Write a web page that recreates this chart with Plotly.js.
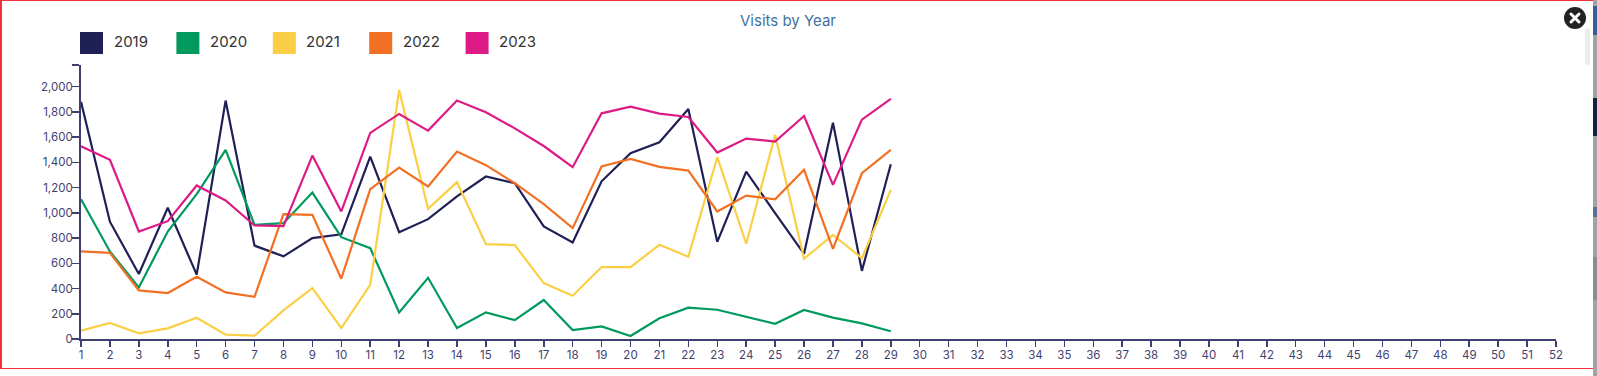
<!DOCTYPE html>
<html>
<head>
<meta charset="utf-8">
<script src="https://cdn.plot.ly/plotly-3.0.1.min.js"></script>
<style>
html,body{margin:0;padding:0;width:1597px;height:376px;overflow:hidden;background:#fff}
#frame{position:absolute;left:0;top:0;width:1593px;height:369px;box-sizing:border-box;border:solid #f0313c;border-width:1px 0 1px 2px}
.strip{position:absolute;left:1593px;width:4px}
#thumb{position:absolute;left:1585px;top:28px;width:5px;height:37px;background:#ececec;border-radius:3px}
#chart{position:absolute;left:0;top:0;width:1597px;height:376px}
#close{position:absolute;left:1564px;top:7px;width:22px;height:22px}
</style>
</head>
<body>
<div id="chart"></div>
<div id="frame"></div>
<div class="strip" style="top:0;height:376px;background:#a2a2a2"></div>
<div class="strip" style="top:6px;height:29px;background:#3c5a96"></div>
<div class="strip" style="top:98px;height:38px;background:#14213f"></div>
<div class="strip" style="top:207px;height:10px;background:#5d7196"></div>
<div class="strip" style="top:257px;height:43px;background:#8c8c8c"></div>
<div id="thumb"></div>
<svg id="close" viewBox="0 0 22 22"><circle cx="11" cy="11" r="11" fill="#222"/><path d="M7 7L15 15M15 7L7 15" stroke="#fff" stroke-width="3" stroke-linecap="round"/></svg>
<script>
const titleText = "Visits by Year";
const weeks = [1,2,3,4,5,6,7,8,9,10,11,12,13,14,15,16,17,18,19,20,21,22,23,24,25,26,27,28,29];
const allWeeks = Array.from({length:52},(_,i)=>i+1);
const names = ["2019","2020","2021","2022","2023"];
const colors = ["#1f2056","#009a5e","#fbcf45","#f27024","#dd1a85"];
const yTickVals = [0,200,400,600,800,1000,1200,1400,1600,1800,2000,2172];
const yTickText = ["0","200","400","600","800","1,000","1,200","1,400","1,600","1,800","2,000",""];
const v2019 = [1880,930,515,1040,510,1890,740,655,800,830,1445,847,950,1130,1288,1235,892,765,1250,1472,1560,1823,770,1327,998,675,1715,540,1385];
const v2020 = [1108,694,409,852,1148,1499,905,918,1161,807,720,211,485,87,211,150,309,71,100,24,164,248,232,174,121,230,169,124,61];
const v2021 = [66,127,45,84,169,34,26,227,404,87,430,1974,1032,1243,752,744,443,343,570,570,747,652,1441,755,1618,636,826,641,1182];
const v2022 = [694,683,385,364,493,369,335,990,984,478,1188,1359,1209,1486,1378,1235,1069,879,1367,1428,1364,1335,1011,1137,1108,1341,715,1314,1499];
const v2023 = [1528,1420,852,934,1217,1098,900,895,1454,1011,1634,1784,1652,1890,1797,1670,1530,1362,1789,1842,1787,1760,1478,1589,1565,1768,1222,1739,1903];
const series = [v2019,v2020,v2021,v2022,v2023];

const W = 1597, H = 376;
const font = "Inter, 'Noto Sans', sans-serif";
const tickColor = "#3f3f70";

const traces = names.map((n,i)=>({
  type:"scatter", mode:"lines", name:n, x:weeks, y:series[i],
  line:{color:colors[i], width:2.2, shape:"linear"}, hoverinfo:"x+y+name", cliponaxis:false
}));

const marginL = 81, marginR = 41, marginT = 65, marginB = 37;
const plotW = W - marginL - marginR, plotH = H - marginT - marginB;
const toPX = x => (x - marginL) / plotW;
const toPY = y => (H - marginB - y) / plotH;

const legendShapes = names.map((n,i)=>{
  const left = 80 + i * 96.4;
  return {type:"rect", xref:"paper", yref:"paper", layer:"above",
    x0:toPX(left), x1:toPX(left + 23), y0:toPY(54), y1:toPY(32),
    fillcolor:colors[i], line:{width:0}};
});
const legendLabels = names.map((n,i)=>({
  xref:"paper", yref:"paper", xanchor:"left", yanchor:"middle", showarrow:false,
  x:toPX(111.5 + i * 96.4), y:toPY(41.5), text:n, font:{family:font, size:15, color:"#333333"}
}));
const titleNote = {
  xref:"paper", yref:"paper", xanchor:"center", yanchor:"middle", showarrow:false,
  x:toPX(788), y:toPY(20.5), text:titleText, font:{family:font, size:15, color:"#3f72a0"}
};

const layout = {
  width:W, height:H, showlegend:false,
  paper_bgcolor:"rgba(0,0,0,0)", plot_bgcolor:"rgba(0,0,0,0)",
  margin:{l:marginL, r:marginR, t:marginT, b:marginB, pad:0},
  font:{family:font},
  xaxis:{range:[1,52], tickmode:"array", tickvals:allWeeks, ticktext:allWeeks.map(String),
    showgrid:false, zeroline:false, showline:true, linecolor:tickColor, linewidth:2,
    ticks:"outside", ticklen:6, tickwidth:1.5, tickcolor:tickColor, tickangle:0, ticklabelstandoff:-2,
    tickfont:{family:font, size:11.5, color:tickColor}},
  yaxis:{range:[0,2172], tickmode:"array", tickvals:yTickVals, ticktext:yTickText,
    showgrid:false, zeroline:false, showline:true, linecolor:tickColor, linewidth:2,
    ticks:"outside", ticklen:7, tickwidth:1.5, tickcolor:tickColor, ticklabelstandoff:-3,
    tickfont:{family:font, size:11.5, color:tickColor}},
  shapes:legendShapes,
  annotations:[titleNote].concat(legendLabels)
};
Plotly.newPlot("chart", traces, layout, {displayModeBar:false, staticPlot:true});
</script>
</body>
</html>
